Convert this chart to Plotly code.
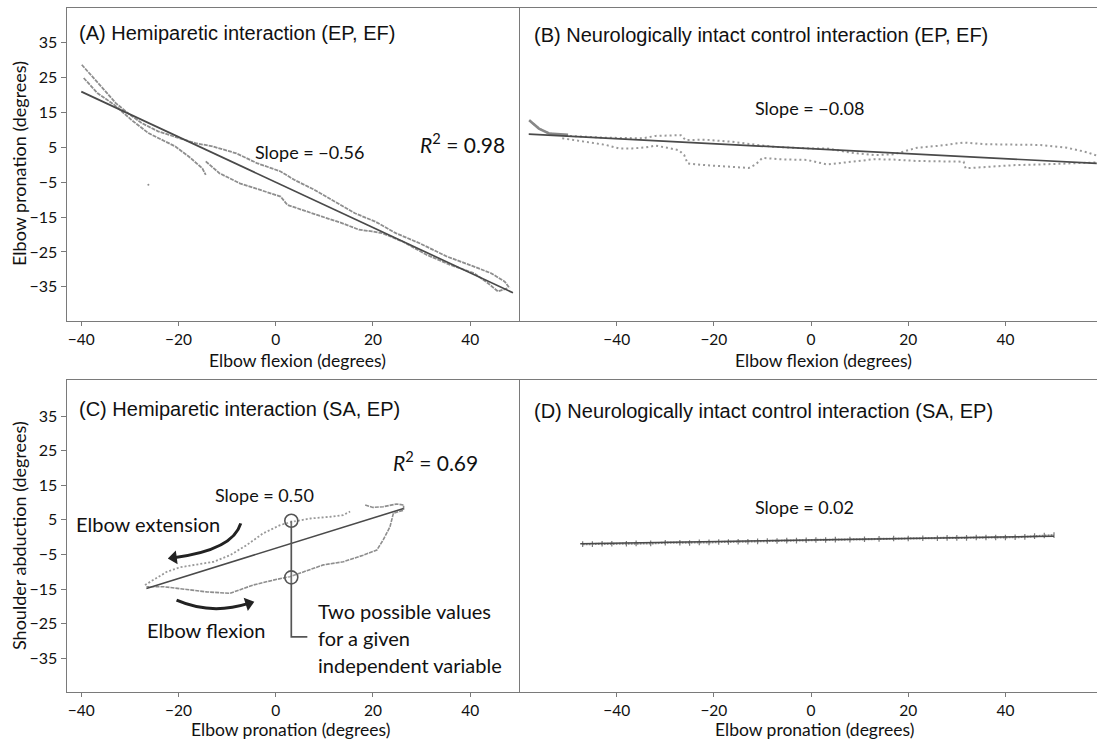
import math
import plotly.graph_objects as go

W, H = 1097, 741

# ---------------- data ----------------
tick_x = [-40, -20, 0, 20, 40]
tick_x_text = ["\u221240", "\u221220", "0", "20", "40"]
tick_y = [35, 25, 15, 5, -5, -15, -25, -35]
tick_y_text = ["35", "25", "15", "5", "\u22125", "\u221215", "\u221225", "\u221235"]

# Panel A : hemiparetic (EP vs EF)
a_up_x = [-39.9, -37.8, -35.3, -32.9, -30.4, -27.6, -24.2, -20.0, -16.5, -13.0, -8.1, -3.9, 1.0, 3.8, 8.0,
          12.1, 16.3, 20.5, 24.7, 29.6, 35.2, 40.8, 44.3, 47.1, 48.1]
a_up_y = [28.7, 25.3, 21.5, 17.7, 14.8, 12.0, 9.6, 7.7, 6.2, 5.3, 3.3, 0.5, -1.9, -4.3, -7.2,
          -10.5, -13.9, -16.3, -19.6, -22.5, -26.3, -29.2, -31.1, -33.5, -35.4]
a_lo_x = [-39.5, -36.7, -33.2, -29.7, -26.2, -23.5, -20.7, -17.9, -15.1, -14.4, None,
          -14.4, -11.6, -7.4, -3.2, 1.0, 2.4, 5.2, 9.4, 13.6, 17.1, 19.8, 21.9, 26.1, 31.0, 35.9,
          40.8, 43.6, 45.7, 47.8]
a_lo_y = [24.9, 20.6, 17.2, 12.9, 9.1, 7.2, 5.3, 2.4, -1.0, -2.9, None,
          1.0, -2.4, -5.3, -7.2, -9.1, -11.5, -12.9, -14.8, -16.7, -18.6, -19.1, -19.6, -22.0, -25.8, -28.7,
          -31.1, -33.9, -36.3, -35.4]
a_out_x = [-26.2]
a_out_y = [-5.7]
a_fit_x = [-40.0, 48.8]
a_fit_y = [21.0, -36.7]

# Panel B : control (EP vs EF)
b_c1_x = [-58.0, -56.0, -53.9, -49.8, -42.9, -34.7, -32.0, -29.2, -26.8, -25.8, -21.7, -16.2, -10.7, -8.0,
          -0.4, 3.3, 8.1, 12.9, 17.0, 21.8, 26.6, 31.4, 36.2, 41.7, 47.2, 52.7, 56.8, 58.9]
b_c1_y = [12.8, 10.4, 9.0, 8.3, 7.8, 7.6, 8.3, 8.3, 8.5, 7.1, 7.2, 6.6, 5.8, 5.2,
          4.7, 4.7, 3.5, 2.8, 3.0, 4.9, 5.5, 6.4, 5.9, 5.8, 5.7, 4.9, 3.6, 2.6]
b_c2_x = [-51.2, -46.4, -42.2, -39.5, -36.8, -34.0, -32.0, -29.6, -27.2, -26.1, -25.4, -21.7, -17.6, -12.8,
          -11.4, -10.0, -6.6, -0.8, 3.3, 8.1, 12.9, 17.0, 21.8, 31.4, 31.8, 36.2, 41.7, 47.2, 53.4, 58.9]
b_c2_y = [7.6, 6.6, 5.7, 4.7, 4.7, 5.0, 5.5, 4.9, 4.2, 2.8, 0.4, -0.1, -0.4, -0.9,
          0.1, 2.0, 1.6, 1.4, 0.1, 0.9, 1.6, 1.5, 1.1, 0.9, -1.0, -0.6, -0.1, 0.1, 0.4, 0.7]
b_spur_x = [-58.0, -56.0, -53.9, -50.0]
b_spur_y = [12.8, 10.4, 9.0, 8.6]
b_fit_x = [-58.1, 58.8]
b_fit_y = [8.8, 0.4]

# Panel C : hemiparetic (SA vs EP)
c_up_x = [-26.9, -25.2, -22.4, -19.7, -16.3, -12.8, -9.4, -6.0, -2.6, 0.9, 3.6, 7.1, 11.2, 13.9, 15.3]
c_up_y = [-13.8, -12.4, -10.0, -8.7, -8.0, -7.1, -5.2, -2.3, 1.1, 3.5, 4.5, 5.4, 5.9, 6.4, 7.4]
c_lo_x = [18.4, 20.0, 22.1, 24.9, 26.3, 26.3, 24.2, 23.5, 22.1, 20.8, 18.0, 13.9, 9.8, 5.7, 2.9, -0.5,
          -4.6, -9.4, -14.2, -18.3, -23.1, -26.6]
c_lo_y = [9.3, 8.6, 8.8, 9.6, 9.3, 7.8, 6.9, 3.0, -0.8, -3.7, -5.2, -7.1, -8.0, -10.0, -11.4, -12.4,
          -13.8, -16.2, -15.8, -15.1, -14.3, -14.3]
c_fit_x = [-26.6, 26.3]
c_fit_y = [-14.8, 8.3]
c_circle_x = [3.2, 3.2]
c_circle_y = [4.75, -11.6]
c_conn_x = [3.2, 3.2, 6.5]
c_conn_y = [4.75, -28.8, -28.8]
ext_arrow = [(-7.2, 4.0), (-8.8, -3.7), (-22.0, -6.1)]   # start, control, head
flex_arrow = [(-20.4, -18.2), (-13.3, -22.55), (-4.6, -18.7)]

# Panel D : control (SA vs EP)
d_x = [-47, -45, -43, -41, -38, -36, -33, -30, -27, -25, -23, -21, -19, -17, -15, -13, -11, -9, -7, -5,
       -3, -1, 1, 3, 5, 8, 11, 14, 17, 20, 23, 26, 28, 30, 32, 34, 36, 38, 40, 42, 44, 46, 48, 50]
d_y = [-2.0, -2.0, -1.9, -1.9, -1.9, -1.8, -1.8, -1.6, -1.6, -1.7, -1.5, -1.5, -1.4, -1.4, -1.3, -1.3,
       -1.2, -1.1, -1.1, -1.0, -1.0, -0.9, -0.8, -0.8, -0.7, -0.7, -0.6, -0.5, -0.4, -0.4, -0.3, -0.3,
       -0.2, -0.2, -0.2, -0.1, -0.1, -0.1, -0.1, 0.0, 0.1, 0.3, 0.5, 0.6]
d_fit_x = [-47.5, 50.0]
d_fit_y = [-1.9, 0.3]

# ---------------- styling ----------------
DATA_C = "#8e8e8e"
FIT_C = "#4a4a4a"
AX_C = "#7a7a7a"
TXT = "Lato, 'Open Sans', sans-serif"
TITLE_F = "'Liberation Sans', Arial, sans-serif"

X_RANGE_L = [-43.0, 50.1]
X_RANGE_R = [-60.0, 58.85]
Y_RANGE_T = [-44.8, 44.9]
Y_RANGE_B = [-44.8, 45.4]

xl, xr = 66.7 / W, 519.3 / W
xb = 519.5 / W
top_dom = [1 - 321 / H, 1 - 8.3 / H]
bot_dom = [1 - 692.3 / H, 1 - 380 / H]

fig = go.Figure()

def line(x, y, xa, ya, color=DATA_C, width=1.4, dash=None):
    fig.add_trace(go.Scatter(x=x, y=y, xaxis=xa, yaxis=ya, mode="lines",
                             line=dict(color=color, width=width, dash=dash),
                             connectgaps=False, showlegend=False, hoverinfo="skip"))

# A
line(a_up_x, a_up_y, "x", "y", width=1.8, dash="4px,1px")
line(a_lo_x, a_lo_y, "x", "y", width=1.8, dash="4px,1px")
fig.add_trace(go.Scatter(x=a_out_x, y=a_out_y, xaxis="x", yaxis="y", mode="markers",
                         marker=dict(color=DATA_C, size=2), showlegend=False, hoverinfo="skip"))
line(a_fit_x, a_fit_y, "x", "y", color=FIT_C, width=1.7)

# B
line(b_c1_x, b_c1_y, "x2", "y2", color="#999999", width=2, dash="2px,3px")
line(b_c2_x, b_c2_y, "x2", "y2", color="#999999", width=2, dash="2px,3px")
line(b_spur_x, b_spur_y, "x2", "y2", color="#888888", width=2.5)
line(b_fit_x, b_fit_y, "x2", "y2", color=FIT_C, width=1.7)

# C
line(c_up_x, c_up_y, "x3", "y3", color="#999999", width=1.8, dash="2px,2px")
line(c_lo_x, c_lo_y, "x3", "y3", width=1.6, dash="4px,1px")
line(c_fit_x, c_fit_y, "x3", "y3", color=FIT_C, width=1.5)
line(c_conn_x, c_conn_y, "x3", "y3", color="#555555", width=1.7)
fig.add_trace(go.Scatter(x=c_circle_x, y=c_circle_y, xaxis="x3", yaxis="y3", mode="markers",
                         marker=dict(symbol="circle", size=13, color="rgba(255,255,255,0.15)",
                                     line=dict(color="#555555", width=1.6)),
                         showlegend=False, hoverinfo="skip"))

# D
line(d_x, d_y, "x4", "y4", color="#8a8a8a", width=2.2, dash="2px,1px")
fig.add_trace(go.Scatter(x=d_x, y=d_y, xaxis="x4", yaxis="y4", mode="markers",
                         marker=dict(symbol="line-ns", size=4, line=dict(color="#7a7a7a", width=1.2)),
                         showlegend=False, hoverinfo="skip"))
line(d_fit_x, d_fit_y, "x4", "y4", color=FIT_C, width=1.5)

# curved arrows in C (curve as path shape, head as rotated arrow marker)
shapes = []
px_per_x = (xr - xl) * W / (X_RANGE_L[1] - X_RANGE_L[0])
px_per_y = (bot_dom[1] - bot_dom[0]) * H / (Y_RANGE_B[1] - Y_RANGE_B[0])
head_x, head_y, head_ang = [], [], []
for (p0, c, p1) in [ext_arrow, flex_arrow]:
    dx, dy = p1[0] - c[0], p1[1] - c[1]
    u, v = dx * px_per_x, -dy * px_per_y
    n = math.hypot(u, v)
    back = 5.0  # px, stop curve a bit short of the head tip
    end = (p1[0] - u / n * back / px_per_x, p1[1] + v / n * back / px_per_y)
    shapes.append(dict(type="path", xref="x3", yref="y3",
                       path=f"M {p0[0]},{p0[1]} Q {c[0]},{c[1]} {end[0]},{end[1]}",
                       line=dict(color="#222222", width=3)))
    head_x.append(end[0])
    head_y.append(end[1])
    head_ang.append(math.degrees(math.atan2(u, -v)))
fig.add_trace(go.Scatter(x=head_x, y=head_y, xaxis="x3", yaxis="y3", mode="markers",
                         marker=dict(symbol="triangle-up", size=12, angle=head_ang, color="#222222"),
                         showlegend=False, hoverinfo="skip"))

annotations = []

def txt(text, x, y, xa, ya, size=16, family=TXT, xanchor="center", angle=0):
    annotations.append(dict(text=text, x=x, y=y, xref=xa, yref=ya, showarrow=False,
                            xanchor=xanchor, yanchor="middle", textangle=angle,
                            font=dict(family=family, size=size, color="#111111")))

# panel titles
txt("(A) Hemiparetic interaction (EP, EF)", -40.9, 37.8, "x", "y", 20, TITLE_F, "left")
txt("(B) Neurologically intact control interaction (EP, EF)", -57.5, 37.2, "x2", "y2", 20, TITLE_F, "left")
txt("(C) Hemiparetic interaction (SA, EP)", -40.9, 37.0, "x3", "y3", 20, TITLE_F, "left")
txt("(D) Neurologically intact control interaction (SA, EP)", -57.5, 36.5, "x4", "y4", 20, TITLE_F, "left")

# inner labels
txt("Slope = \u22120.56", 6.9, 3.6, "x", "y", 18)
txt("<i>R</i><sup>2</sup> = 0.98", 38.5, 6.2, "x", "y", 21)
txt("Slope = \u22120.08", -0.4, 16.2, "x2", "y2", 18)
txt("Slope = 0.50", -2.4, 12.2, "x3", "y3", 18)
txt("<i>R</i><sup>2</sup> = 0.69", 32.8, 22.1, "x3", "y3", 21)
txt("Elbow extension", -41.5, 3.8, "x3", "y3", 20, TXT, "left")
txt("Elbow flexion", -26.9, -26.8, "x3", "y3", 20, TXT, "left")
txt("Two possible values", 8.3, -21.3, "x3", "y3", 20, TXT, "left")
txt("for a given", 8.3, -29.1, "x3", "y3", 20, TXT, "left")
txt("independent variable", 8.3, -36.9, "x3", "y3", 20, TXT, "left")
txt("Slope = 0.02", -1.3, 8.8, "x4", "y4", 18)

# axis titles (paper)
txt("Elbow flexion (degrees)", 297 / W, 1 - 360.5 / H, "paper", "paper", 17.5)
txt("Elbow flexion (degrees)", 823 / W, 1 - 360.5 / H, "paper", "paper", 17.5)
txt("Elbow pronation (degrees)", 290 / W, 1 - 729.5 / H, "paper", "paper", 17.5)
txt("Elbow pronation (degrees)", 814 / W, 1 - 729.5 / H, "paper", "paper", 17.5)
txt("Elbow pronation (degrees)", 19 / W, 1 - 164 / H, "paper", "paper", 18, angle=-90)
txt("Shoulder abduction (degrees)", 19 / W, 1 - 536 / H, "paper", "paper", 18, angle=-90)

common_x = dict(tickvals=tick_x, ticktext=tick_x_text, showline=True, mirror=True, linecolor=AX_C,
                linewidth=1.2, ticks="outside", ticklen=4, tickcolor=AX_C, showgrid=False,
                zeroline=False, tickfont=dict(family=TXT, size=15.5, color="#111111"))
common_y = dict(tickvals=tick_y, ticktext=tick_y_text, showline=True, linecolor=AX_C, linewidth=1.2,
                ticks="outside", ticklen=5, tickcolor=AX_C, showgrid=False, zeroline=False,
                tickfont=dict(family=TXT, size=16, color="#111111"))

fig.update_layout(
    width=W, height=H, margin=dict(l=0, r=0, t=0, b=0),
    paper_bgcolor="white", plot_bgcolor="white", showlegend=False,
    xaxis=dict(domain=[xl, xr], range=X_RANGE_L, anchor="y", **common_x),
    yaxis=dict(domain=top_dom, range=Y_RANGE_T, anchor="x", mirror=True, **common_y),
    xaxis2=dict(domain=[xb, 1.0], range=X_RANGE_R, anchor="y2", **common_x),
    yaxis2=dict(domain=top_dom, range=Y_RANGE_T, anchor="x2", mirror=False,
                **{**common_y, "ticks": "", "showticklabels": False}),
    xaxis3=dict(domain=[xl, xr], range=X_RANGE_L, anchor="y3", **common_x),
    yaxis3=dict(domain=bot_dom, range=Y_RANGE_B, anchor="x3", mirror=True, **common_y),
    xaxis4=dict(domain=[xb, 1.0], range=X_RANGE_R, anchor="y4", **common_x),
    yaxis4=dict(domain=bot_dom, range=Y_RANGE_B, anchor="x4", mirror=False,
                **{**common_y, "ticks": "", "showticklabels": False}),
    shapes=shapes, annotations=annotations,
)

fig.write_html("out.html", config={"displayModeBar": False},
               post_script="document.body.style.margin='0px';document.body.style.overflow='hidden';")
